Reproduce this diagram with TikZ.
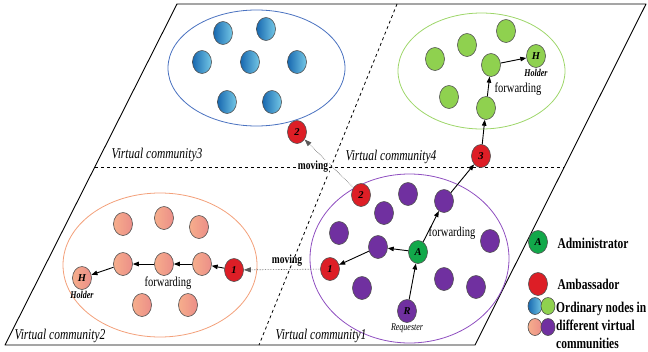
\documentclass[tikz,border=0pt]{standalone}
\usepackage{fontspec}
\setmainfont{Liberation Serif}
\usepackage{graphicx}
\usepackage{tikz}
\usetikzlibrary{shapes.geometric,arrows.meta}
\definecolor{blueD}{HTML}{1869B0}
\definecolor{blueL}{HTML}{74C8E6}
\definecolor{blueE}{HTML}{4A72C0}
\definecolor{grnC}{HTML}{8FD14F}
\definecolor{grnE}{HTML}{9ED66A}
\definecolor{salL}{HTML}{F6AE8C}
\definecolor{salR}{HTML}{EC8E88}
\definecolor{salE}{HTML}{F3A07A}
\definecolor{purC}{HTML}{7030A0}
\definecolor{purE}{HTML}{8F4FC0}
\definecolor{redC}{HTML}{DD1E26}
\definecolor{admC}{HTML}{12A84A}
\definecolor{rim}{HTML}{505050}
\newcommand{\tall}[1]{\scalebox{1}[1.3]{#1}}
\tikzset{
  frame/.style={draw=black, line width=0.9pt, line join=round},
  split/.style={draw=black, dashed, line width=0.8pt},
  ord/.style={ellipse, draw=rim, line width=0.6pt, minimum width=19pt, minimum height=23pt, inner sep=0pt,
    font=\fontsize{10.5}{10}\selectfont\bfseries\itshape},
  blu/.style={ord, left color=blueD, right color=blueL},
  grn/.style={ord, fill=grnC},
  sal/.style={ord, left color=salL, right color=salR},
  pur/.style={ord, fill=purC},
  amb/.style={ord, fill=redC},
  adm/.style={ord, fill=admC},
  mini/.style={minimum width=14pt, minimum height=17pt},
  fwd/.style={draw=black, line width=0.9pt, -{Triangle[length=6pt,width=4.5pt]}},
  mov/.style={draw=gray!70!black, densely dotted, line width=0.6pt, -{Triangle[length=7pt,width=5pt]}},
  vc/.style={font=\fontsize{11.5}{12}\selectfont\itshape},
  fw/.style={font=\fontsize{10.5}{11}\selectfont},
  mv/.style={font=\fontsize{9.5}{10}\selectfont\bfseries},
  tag/.style={font=\fontsize{8}{8}\selectfont\bfseries\itshape, inner sep=1pt},
  leg/.style={anchor=west, font=\fontsize{11.5}{13.8}\selectfont\bfseries},
}
\begin{document}
\begin{tikzpicture}[x=1pt,y=-1pt]
  \useasboundingbox (0,0) rectangle (648,351);
  \coordinate (TL) at (177,4);
  \coordinate (TR) at (646,4);
  \coordinate (BR) at (475,345);
  \coordinate (BL) at (5,345);

  % plane and its four communities
  \draw[frame] (TL) -- (TR) -- (BR) -- (BL) -- cycle;
  \coordinate (hL) at (95,167);
  \coordinate (hR) at (564,167);
  \coordinate (vT) at (397,4);
  \coordinate (vB) at (259,345);
  \draw[split] (hL) -- (hR);
  \draw[split] (vT) -- (vB);

  \draw[blueE, line width=0.8pt] (256.5,68) ellipse [x radius=88.5, y radius=58];
  \draw[grnE, line width=0.8pt] (481.5,71) ellipse [x radius=83.5, y radius=58];
  \draw[salE, line width=0.8pt] (160,265) ellipse [x radius=97, y radius=72];
  \draw[purE, line width=0.8pt] (409.5,258.5) ellipse [x radius=99.5, y radius=84.5];

  \node[vc] (vc3) at (157,155) {\tall{Virtual community3}};
  \node[vc] (vc4) at (391,157) {\tall{Virtual community4}};
  \node[vc] (vc2) at (60,336) {\tall{Virtual community2}};
  \node[vc] (vc1) at (321,336) {\tall{Virtual community1}};

  % community 3 (blue)
  \node[blu] (b1) at (223,33) {};
  \node[blu] (b2) at (266,29) {};
  \node[blu] (b3) at (202,62) {};
  \node[blu] (b4) at (250,62) {};
  \node[blu] (b5) at (297,62) {};
  \node[blu] (b6) at (227,102) {};
  \node[blu] (b7) at (272,102) {};
  \node[amb] (amb2a) at (297,132) {2};

  % community 4 (green)
  \node[grn] (g1) at (435,59) {};
  \node[grn] (g2) at (467,45) {};
  \node[grn] (g3) at (506,31) {};
  \node[grn] (g4) at (491,65) {};
  \node[grn, label={[tag]below:\tall{Holder}}] (H4) at (536,56) {H};
  \node[grn] (g5) at (449,97) {};
  \node[grn] (g6) at (486,108) {};
  \node[amb] (amb3) at (481,156) {3};
  \node[fw] at (518,89) {\tall{forwarding}};

  % community 2 (salmon)
  \node[sal] (s1) at (123,224) {};
  \node[sal] (s2) at (164,218) {};
  \node[sal] (s3) at (199,227) {};
  \node[sal] (s4) at (123,264) {};
  \node[sal] (s5) at (164,264) {};
  \node[sal] (s6) at (202,264) {};
  \node[sal, label={[tag]below:\tall{Holder}}] (H2) at (82,278) {H};
  \node[sal] (s7) at (142,305) {};
  \node[sal] (s8) at (188,305) {};
  \node[amb] (amb1a) at (234,270) {1};
  \node[fw] at (168,283) {\tall{forwarding}};

  % community 1 (purple)
  \node[amb] (amb2b) at (361,195) {2};
  \node[pur] (p1) at (408,194) {};
  \node[pur] (p2) at (444,201) {};
  \node[pur] (p3) at (384,213) {};
  \node[pur] (p4) at (339,233) {};
  \node[pur] (p5) at (378,247) {};
  \node[adm] (A) at (418,252) {A};
  \node[pur] (p6) at (490,241) {};
  \node[amb] (amb1b) at (330,269) {1};
  \node[pur] (p7) at (362,288) {};
  \node[pur] (p8) at (444,279) {};
  \node[pur] (p9) at (476,287) {};
  \node[pur, label={[tag, font=\fontsize{8}{8}\selectfont\itshape, inner sep=0.5pt]below:\tall{Requester}}] (R) at (407,311) {R};
  \node[fw] at (452,233) {\tall{forwarding}};

  % forwarding paths
  \draw[fwd] (R) -- (A);
  \draw[fwd] (A) -- (p5);
  \draw[fwd] (p5) -- (amb1b);
  \draw[fwd] (A) -- (p2);
  \draw[fwd] (p2) -- (amb3);
  \draw[fwd] (amb3) -- (g6);
  \draw[fwd] (g6) -- (g4);
  \draw[fwd] (g4) -- (H4);
  \draw[fwd] (amb1a) -- (s6);
  \draw[fwd] (s6) -- (s5);
  \draw[fwd] (s5) -- (s4);
  \draw[fwd] (s4) -- (H2);

  % ambassadors moving
  \draw[mov] (amb2b) -- (amb2a);
  \draw[mov] (amb1b) -- (amb1a);
  \node[mv, fill=white, inner sep=1pt] at (313,167) {\tall{moving}};
  \node[mv] at (287,261) {\tall{moving}};

  % legend
  \node[adm] (legA) at (538,242) {A};
  \node[amb] (legR) at (538,284) {};
  \node[blu, mini] (legB) at (535,306) {};
  \node[grn, mini] (legG) at (548,306) {};
  \node[sal, mini] (legS) at (535,327) {};
  \node[pur, mini] (legP) at (548,327) {};
  \node[leg] at (554,243) {\tall{Administrator}};
  \node[leg] at (554,284) {\tall{Ambassador}};
  \node[leg, anchor=north west, inner sep=0pt] at (556,300) {\tall{\begin{tabular}{@{}l@{}}Ordinary nodes in\\different virtual\\communities\end{tabular}}};
\end{tikzpicture}
\end{document}
